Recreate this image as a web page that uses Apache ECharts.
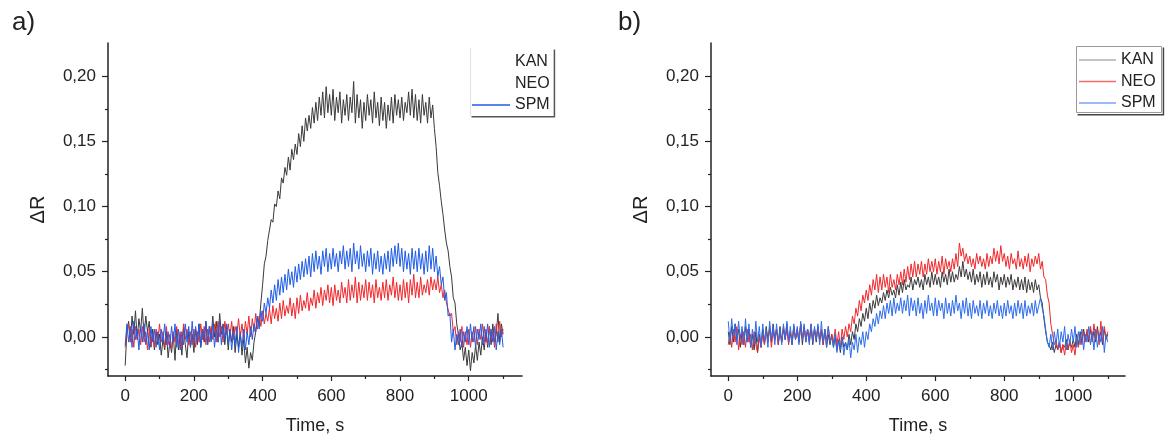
<!DOCTYPE html>
<html>
<head>
<meta charset="utf-8">
<script src="https://cdn.jsdelivr.net/npm/echarts@6/dist/echarts.min.js"></script>
<style>
html,body{margin:0;padding:0;background:#fff;}
#chart{width:1170px;height:440px;}
</style>
</head>
<body>
<div id="chart"></div>
<script>
// Sample times (s), one every 5 s from 0 to 1100
const times = [];
for (let t = 0; t <= 1100; t += 5) times.push(t);

const seriesNames = ['KAN', 'NEO', 'SPM'];
const xLabelValues = [0, 200, 400, 600, 800, 1000];
const xMinorValues = [100, 300, 500, 700, 900, 1100];
const yLabelValues = [0, 0.05, 0.10, 0.15, 0.20];
const yMinorValues = [-0.025, 0.025, 0.075, 0.125, 0.175];

// Panel a)  (each row = 50 s)
const kanA = [
 -0.022, 0.004, 0.012,-0.004, 0.016, 0.002, 0.020,-0.002, 0.014, 0.004,
  0.022, 0.000, 0.016, 0.004, 0.012,-0.008, 0.006,-0.010, 0.004,-0.006,
  0.002,-0.014,-0.002,-0.010, 0.004,-0.016,-0.004,-0.012, 0.002,-0.018,
  0.006,-0.010, 0.002,-0.014, 0.008,-0.006,-0.016, 0.004,-0.008, 0.002,
 -0.012, 0.006,-0.006, 0.010,-0.008, 0.004,-0.004, 0.012,-0.006, 0.008,
 -0.002, 0.016, 0.000, 0.012,-0.004, 0.018, 0.002, 0.010,-0.006, 0.008,
 -0.010, 0.006,-0.004, 0.008,-0.012, 0.002,-0.008, 0.004,-0.014,-0.002,
 -0.020,-0.008,-0.024,-0.012,-0.018,-0.004, 0.004, 0.014, 0.010, 0.026,
  0.040, 0.056, 0.062, 0.074, 0.082, 0.090, 0.088, 0.102, 0.100, 0.112,
  0.106, 0.122, 0.118, 0.130, 0.124, 0.138, 0.128, 0.144, 0.136, 0.148,
  0.140, 0.156, 0.146, 0.162, 0.150, 0.168, 0.158, 0.170, 0.160, 0.176,
  0.164, 0.180, 0.166, 0.184, 0.170, 0.188, 0.168, 0.192, 0.172, 0.186,
  0.170, 0.190, 0.166, 0.184, 0.172, 0.188, 0.164, 0.182, 0.170, 0.186,
  0.166, 0.184, 0.172, 0.196, 0.164, 0.186, 0.168, 0.182, 0.160, 0.180,
  0.166, 0.186, 0.170, 0.182, 0.164, 0.188, 0.168, 0.180, 0.162, 0.184,
  0.166, 0.180, 0.160, 0.178, 0.166, 0.184, 0.164, 0.186, 0.170, 0.182,
  0.168, 0.184, 0.166, 0.180, 0.172, 0.188, 0.170, 0.190, 0.168, 0.186,
  0.166, 0.182, 0.164, 0.186, 0.170, 0.180, 0.164, 0.184, 0.168, 0.178,
  0.160, 0.146, 0.126, 0.116, 0.104, 0.094, 0.082, 0.072, 0.066, 0.054,
  0.046, 0.030, 0.026, 0.010, 0.002,-0.010,-0.004,-0.018,-0.008,-0.022,
 -0.010,-0.026,-0.012,-0.020,-0.006,-0.018,-0.004,-0.014, 0.000,-0.010,
  0.004,-0.008, 0.008,-0.006, 0.010,-0.004, 0.002, 0.018,-0.004, 0.010,
  0.002
];
const neoA = [
 -0.008, 0.004, 0.010,-0.004, 0.006,-0.008, 0.008,-0.002, 0.006,-0.006,
  0.008,-0.004, 0.004,-0.010, 0.006,-0.006, 0.002,-0.008, 0.006,-0.004,
  0.010,-0.004, 0.004,-0.008, 0.008,-0.006, 0.002,-0.010, 0.004,-0.004,
  0.008,-0.006, 0.004,-0.008, 0.010,-0.002, 0.006,-0.006, 0.004,-0.006,
  0.006,-0.008, 0.004,-0.004, 0.010,-0.002, 0.008,-0.006, 0.006,-0.004,
  0.008,-0.002, 0.010,-0.004, 0.012, 0.000, 0.008,-0.004, 0.012, 0.002,
  0.010, 0.000, 0.012,-0.002, 0.008, 0.002, 0.014, 0.000, 0.010,-0.002,
  0.012, 0.002, 0.016, 0.000, 0.014, 0.004, 0.018, 0.006, 0.016, 0.008,
  0.020, 0.010, 0.018, 0.012, 0.022, 0.010, 0.024, 0.014, 0.022, 0.012,
  0.026, 0.014, 0.028, 0.016, 0.024, 0.018, 0.030, 0.016, 0.026, 0.014,
  0.030, 0.018, 0.032, 0.020, 0.028, 0.022, 0.034, 0.020, 0.030, 0.024,
  0.036, 0.022, 0.034, 0.026, 0.038, 0.024, 0.036, 0.028, 0.040, 0.026,
  0.038, 0.024, 0.040, 0.028, 0.036, 0.026, 0.042, 0.030, 0.038, 0.026,
  0.044, 0.028, 0.040, 0.030, 0.046, 0.026, 0.042, 0.028, 0.040, 0.030,
  0.044, 0.028, 0.042, 0.030, 0.040, 0.026, 0.044, 0.030, 0.038, 0.028,
  0.042, 0.030, 0.044, 0.028, 0.040, 0.032, 0.046, 0.030, 0.042, 0.028,
  0.040, 0.028, 0.044, 0.030, 0.042, 0.026, 0.044, 0.032, 0.048, 0.030,
  0.042, 0.030, 0.046, 0.032, 0.040, 0.034, 0.044, 0.032, 0.046, 0.036,
  0.044, 0.036, 0.046, 0.034, 0.040, 0.030, 0.036, 0.026, 0.026, 0.016,
  0.018, 0.004, 0.008,-0.006, 0.004,-0.004, 0.008,-0.008, 0.004,-0.006,
  0.006,-0.008, 0.004,-0.004, 0.008,-0.006, 0.006,-0.002, 0.010,-0.004,
  0.006,-0.006, 0.008,-0.002, 0.004,-0.008, 0.010,-0.004, 0.012, 0.000,
  0.006
];
const spmA = [
 -0.006, 0.010,-0.004, 0.008,-0.008, 0.012,-0.002, 0.006,-0.010, 0.008,
 -0.004, 0.010,-0.006, 0.004,-0.010, 0.008,-0.004, 0.006,-0.008, 0.004,
 -0.010, 0.006,-0.004, 0.010,-0.006, 0.004,-0.008, 0.008,-0.004, 0.010,
 -0.008, 0.006,-0.010, 0.004,-0.006, 0.010,-0.004, 0.008,-0.008, 0.012,
 -0.006, 0.008,-0.004, 0.010,-0.008, 0.006,-0.002, 0.012,-0.006, 0.008,
 -0.004, 0.010,-0.008, 0.006,-0.004, 0.012,-0.006, 0.008,-0.002, 0.010,
 -0.006, 0.006,-0.010, 0.004,-0.006, 0.008,-0.012, 0.002,-0.008, 0.006,
 -0.010, 0.004,-0.006, 0.008,-0.002, 0.010, 0.004, 0.016, 0.006, 0.020,
  0.012, 0.026, 0.018, 0.030, 0.022, 0.036, 0.026, 0.040, 0.028, 0.044,
  0.032, 0.046, 0.034, 0.048, 0.036, 0.052, 0.040, 0.050, 0.038, 0.054,
  0.042, 0.056, 0.044, 0.058, 0.046, 0.060, 0.048, 0.062, 0.046, 0.064,
  0.050, 0.066, 0.052, 0.062, 0.048, 0.066, 0.054, 0.068, 0.050, 0.064,
  0.052, 0.068, 0.054, 0.064, 0.050, 0.066, 0.056, 0.070, 0.052, 0.066,
  0.054, 0.068, 0.050, 0.072, 0.056, 0.066, 0.052, 0.070, 0.054, 0.064,
  0.050, 0.066, 0.054, 0.068, 0.048, 0.064, 0.052, 0.066, 0.050, 0.062,
  0.048, 0.064, 0.052, 0.066, 0.050, 0.068, 0.054, 0.070, 0.056, 0.072,
  0.054, 0.068, 0.050, 0.066, 0.052, 0.064, 0.048, 0.068, 0.052, 0.066,
  0.050, 0.068, 0.052, 0.064, 0.048, 0.066, 0.050, 0.070, 0.052, 0.068,
  0.050, 0.062, 0.046, 0.054, 0.040, 0.046, 0.028, 0.034, 0.016, 0.018,
 -0.004, 0.006,-0.010, 0.002,-0.006, 0.006,-0.008, 0.004,-0.004, 0.008,
 -0.006, 0.010,-0.004, 0.008,-0.008, 0.006,-0.002, 0.010,-0.006, 0.008,
 -0.004, 0.010,-0.008, 0.006,-0.004, 0.008,-0.010, 0.004,-0.006, 0.006,
 -0.008
];

// Panel b)
const kanB = [
  0.004,-0.006, 0.008,-0.004, 0.010,-0.002, 0.006,-0.008, 0.004,-0.006,
  0.008,-0.004, 0.006,-0.008, 0.002,-0.010, 0.004,-0.012, 0.002,-0.008,
  0.006,-0.006, 0.008,-0.002, 0.006,-0.004, 0.010,-0.002, 0.006,-0.006,
  0.008,-0.004, 0.006,-0.002, 0.010,-0.004, 0.004,-0.006, 0.008,-0.002,
  0.006,-0.004, 0.010,-0.006, 0.008,-0.002, 0.006,-0.004, 0.008,-0.006,
  0.006,-0.004, 0.008,-0.002, 0.004,-0.006, 0.006,-0.008, 0.002,-0.006,
  0.002,-0.008, 0.000,-0.010,-0.002,-0.012, 0.000,-0.008,-0.004,-0.010,
  0.002,-0.006, 0.004,-0.002, 0.010, 0.004, 0.014, 0.008, 0.018, 0.012,
  0.022, 0.014, 0.026, 0.018, 0.028, 0.022, 0.032, 0.024, 0.030, 0.026,
  0.034, 0.028, 0.036, 0.030, 0.038, 0.032, 0.036, 0.030, 0.040, 0.032,
  0.042, 0.034, 0.044, 0.036, 0.040, 0.038, 0.046, 0.036, 0.044, 0.040,
  0.046, 0.038, 0.044, 0.036, 0.048, 0.040, 0.046, 0.038, 0.050, 0.040,
  0.048, 0.040, 0.046, 0.038, 0.050, 0.042, 0.048, 0.040, 0.052, 0.042,
  0.050, 0.042, 0.048, 0.044, 0.054, 0.046, 0.058, 0.046, 0.052, 0.044,
  0.050, 0.042, 0.052, 0.040, 0.048, 0.042, 0.050, 0.038, 0.048, 0.040,
  0.050, 0.040, 0.046, 0.038, 0.050, 0.042, 0.048, 0.036, 0.046, 0.040,
  0.048, 0.038, 0.046, 0.040, 0.048, 0.036, 0.044, 0.038, 0.046, 0.036,
  0.044, 0.036, 0.046, 0.034, 0.044, 0.036, 0.042, 0.034, 0.044, 0.036,
  0.040, 0.030, 0.026, 0.014, 0.004,-0.004,-0.006,-0.010,-0.004,-0.012,
 -0.006,-0.010,-0.004,-0.012,-0.006,-0.008,-0.002,-0.010,-0.004,-0.008,
 -0.002,-0.008, 0.002,-0.006, 0.004,-0.004, 0.006,-0.002, 0.004,-0.004,
  0.006,-0.002, 0.004,-0.004, 0.008,-0.002, 0.004,-0.006, 0.006,-0.002,
  0.002
];
const neoB = [
 -0.006, 0.004,-0.008, 0.006,-0.004, 0.008,-0.010, 0.002,-0.006, 0.004,
 -0.008, 0.006,-0.004, 0.002,-0.010, 0.004,-0.006,-0.012, 0.000,-0.008,
  0.002,-0.006, 0.006,-0.004, 0.008,-0.008, 0.004,-0.002, 0.006,-0.006,
  0.004,-0.004, 0.008,-0.002, 0.006,-0.006, 0.004,-0.004, 0.008,-0.002,
  0.006,-0.004, 0.010,-0.002, 0.008,-0.004, 0.006,-0.002, 0.010,-0.004,
  0.006,-0.002, 0.008,-0.004, 0.006,-0.006, 0.004,-0.002, 0.008,-0.004,
  0.002,-0.004, 0.006,-0.006, 0.004,-0.008, 0.006,-0.002, 0.008, 0.000,
  0.010, 0.004, 0.016, 0.010, 0.022, 0.016, 0.028, 0.020, 0.032, 0.026,
  0.036, 0.028, 0.040, 0.032, 0.044, 0.036, 0.048, 0.034, 0.046, 0.036,
  0.048, 0.038, 0.046, 0.034, 0.048, 0.038, 0.044, 0.036, 0.048, 0.040,
  0.050, 0.040, 0.052, 0.042, 0.054, 0.044, 0.056, 0.046, 0.058, 0.046,
  0.056, 0.048, 0.058, 0.046, 0.056, 0.048, 0.060, 0.050, 0.058, 0.050,
  0.060, 0.048, 0.058, 0.050, 0.062, 0.048, 0.060, 0.052, 0.058, 0.050,
  0.060, 0.052, 0.064, 0.054, 0.072, 0.062, 0.068, 0.058, 0.064, 0.056,
  0.062, 0.054, 0.060, 0.052, 0.064, 0.056, 0.062, 0.054, 0.060, 0.052,
  0.064, 0.054, 0.062, 0.056, 0.068, 0.058, 0.066, 0.056, 0.070, 0.058,
  0.064, 0.054, 0.062, 0.052, 0.064, 0.056, 0.060, 0.052, 0.066, 0.054,
  0.060, 0.052, 0.062, 0.054, 0.064, 0.050, 0.060, 0.054, 0.062, 0.056,
  0.064, 0.052, 0.058, 0.046, 0.044, 0.032, 0.026, 0.010, 0.002,-0.006,
 -0.002,-0.010,-0.004,-0.012,-0.006,-0.014,-0.004,-0.010,-0.002,-0.012,
 -0.006,-0.014,-0.002,-0.008, 0.002,-0.006, 0.004,-0.004, 0.006,-0.002,
  0.008,-0.004, 0.010,-0.002, 0.006,-0.006, 0.012,-0.004, 0.008,-0.002,
  0.004
];
const spmB = [
  0.012,-0.004, 0.014, 0.000, 0.010,-0.006, 0.012,-0.002, 0.008,-0.006,
  0.014,-0.004, 0.010,-0.008, 0.006,-0.006, 0.012,-0.004, 0.008,-0.008,
  0.010,-0.004, 0.006,-0.008, 0.012,-0.002, 0.008,-0.006, 0.010,-0.004,
  0.006,-0.006, 0.010,-0.002, 0.012,-0.004, 0.008,-0.006, 0.010,-0.002,
  0.008,-0.006, 0.012,-0.002, 0.010,-0.004, 0.006,-0.006, 0.010,-0.004,
  0.008,-0.002, 0.010,-0.006, 0.012,-0.004, 0.006,-0.008, 0.008,-0.004,
  0.000,-0.008, 0.002,-0.012,-0.002,-0.010, 0.000,-0.014,-0.004,-0.010,
 -0.002,-0.016,-0.004,-0.010, 0.002,-0.012, 0.000,-0.006, 0.004,-0.008,
  0.004,-0.002, 0.010, 0.004, 0.014, 0.008, 0.018, 0.010, 0.020, 0.014,
  0.024, 0.014, 0.026, 0.018, 0.028, 0.016, 0.030, 0.018, 0.026, 0.020,
  0.030, 0.018, 0.028, 0.020, 0.032, 0.016, 0.030, 0.020, 0.028, 0.016,
  0.030, 0.018, 0.026, 0.014, 0.028, 0.018, 0.032, 0.020, 0.026, 0.016,
  0.030, 0.016, 0.028, 0.020, 0.026, 0.014, 0.030, 0.018, 0.026, 0.016,
  0.028, 0.018, 0.032, 0.020, 0.026, 0.014, 0.028, 0.018, 0.030, 0.016,
  0.026, 0.014, 0.028, 0.018, 0.024, 0.016, 0.028, 0.014, 0.026, 0.018,
  0.028, 0.016, 0.024, 0.014, 0.026, 0.018, 0.028, 0.016, 0.024, 0.014,
  0.026, 0.016, 0.028, 0.018, 0.024, 0.014, 0.026, 0.016, 0.028, 0.018,
  0.026, 0.014, 0.028, 0.016, 0.024, 0.018, 0.026, 0.016, 0.028, 0.018,
  0.024, 0.030, 0.022, 0.016, 0.006,-0.004,-0.008, 0.002,-0.010, 0.004,
 -0.006, 0.006,-0.008, 0.004,-0.004, 0.008,-0.010, 0.002,-0.006, 0.006,
 -0.004, 0.008,-0.008, 0.004,-0.006, 0.006,-0.010, 0.002,-0.004, 0.008,
 -0.006, 0.004,-0.010, 0.006,-0.008, 0.002,-0.004, 0.008,-0.012, 0.002,
 -0.004
];

const FONT = "'Liberation Sans', Arial, sans-serif";
const colorsA = ['#3a3a3a', '#f0282c', '#1f5ce6'];
const colorsB = ['#3a3a3a', '#f0282c', '#2d6cec'];

function pairs(vals) { return vals.map((v, i) => [times[i], v]); }
const fmtY = v => v.toFixed(2).replace('.', ',');
const fmtX = v => String(Math.round(v));

const Y_MIN = -0.03, Y_MAX = 0.2255;

function xAxes(grid, max) {
  return [
    { type: 'value', gridIndex: grid, min: -50, max: max, position: 'bottom',
      name: 'Time, s', nameLocation: 'middle', nameGap: 41,
      nameTextStyle: { fontSize: 18, color: '#222', fontFamily: FONT },
      axisLine: { show: true, onZero: false, lineStyle: { color: '#222', width: 1.5 } },
      axisTick: { show: true, customValues: xLabelValues, length: 5, inside: false, lineStyle: { color: '#222', width: 1.2 } },
      axisLabel: { show: true, customValues: xLabelValues, formatter: fmtX, fontSize: 17, color: '#222', fontFamily: FONT, margin: 12 },
      splitLine: { show: false } },
    { type: 'value', gridIndex: grid, min: -50, max: max, position: 'bottom',
      axisLine: { show: false, onZero: false },
      axisTick: { show: true, customValues: xMinorValues, length: 3, lineStyle: { color: '#222', width: 1.2 } },
      axisLabel: { show: false }, splitLine: { show: false } }
  ];
}
function yAxes(grid) {
  return [
    { type: 'value', gridIndex: grid, min: Y_MIN, max: Y_MAX, position: 'left',
      name: 'ΔR', nameLocation: 'middle', nameGap: 60,
      nameTextStyle: { fontSize: 20, color: '#222', fontFamily: FONT },
      axisLine: { show: true, onZero: false, lineStyle: { color: '#222', width: 1.5 } },
      axisTick: { show: true, customValues: yLabelValues, length: 6, lineStyle: { color: '#222', width: 1.2 } },
      axisLabel: { show: true, customValues: yLabelValues, formatter: fmtY, fontSize: 17, color: '#222', fontFamily: FONT, margin: 12 },
      splitLine: { show: false } },
    { type: 'value', gridIndex: grid, min: Y_MIN, max: Y_MAX, position: 'left',
      axisLine: { show: false, onZero: false },
      axisTick: { show: true, customValues: yMinorValues, length: 3, lineStyle: { color: '#222', width: 1.2 } },
      axisLabel: { show: false }, splitLine: { show: false } }
  ];
}

function lineSeries(name, data, xi, yi, color) {
  return { type: 'line', name: name, xAxisIndex: xi, yAxisIndex: yi,
    data: pairs(data), showSymbol: false, symbol: 'none',
    lineStyle: { width: 1, color: color }, itemStyle: { color: color },
    emphasis: { disabled: true }, animation: false };
}

const legendText = { fontSize: 16, color: '#222', fontFamily: FONT, lineHeight: 16 };

const chart = echarts.init(document.getElementById('chart'), null, { renderer: 'canvas' });
chart.setOption({
  backgroundColor: '#ffffff',
  animation: false,
  textStyle: { fontFamily: FONT },
  title: [
    { text: 'a)', left: 7, top: 5, textStyle: { fontSize: 26, fontWeight: 'normal', color: '#222', fontFamily: FONT } },
    { text: 'b)', left: 613, top: 5, textStyle: { fontSize: 26, fontWeight: 'normal', color: '#222', fontFamily: FONT } }
  ],
  grid: [
    { left: 108, top: 43, width: 414, height: 336 },
    { left: 711, top: 43, width: 414, height: 336 }
  ],
  xAxis: [...xAxes(0, 1155), ...xAxes(1, 1150)],
  yAxis: [...yAxes(0), ...yAxes(1)],
  legend: [
    { orient: 'vertical', left: 470, top: 48, padding: [6, 4, 3, 2], itemGap: 5.5,
      itemWidth: 38, itemHeight: 1.5, icon: 'rect',
      backgroundColor: '#fff', borderWidth: 0,
      shadowColor: '#555', shadowOffsetX: 1.5, shadowOffsetY: 1.5, shadowBlur: 0,
      textStyle: legendText, selectedMode: false,
      data: [
        { name: 'KAN', itemStyle: { color: '#ffffff' } },
        { name: 'NEO', itemStyle: { color: '#ffffff' } },
        { name: 'SPM', itemStyle: { color: colorsA[2] } }
      ] },
    { orient: 'vertical', left: 1076, top: 46, padding: [6, 7, 3, 3], itemGap: 5.5,
      itemWidth: 37, itemHeight: 1.5, icon: 'rect',
      backgroundColor: '#fff', borderWidth: 0,
      shadowColor: '#444', shadowOffsetX: 1.5, shadowOffsetY: 1.5, shadowBlur: 0,
      textStyle: legendText, selectedMode: false,
      data: [
        { name: 'KAN', itemStyle: { color: '#b0b0b0' } },
        { name: 'NEO', itemStyle: { color: '#f26a6a' } },
        { name: 'SPM', itemStyle: { color: '#7ea3f0' } }
      ] }
  ],
  graphic: [
    { type: 'line', z: 100, shape: { x1: 470.5, y1: 48, x2: 470.5, y2: 116 },
      style: { stroke: '#e2e2e2', lineWidth: 1 }, silent: true },
    { type: 'rect', z: 100, shape: { x: 1076.5, y: 46.5, width: 85, height: 66 },
      style: { fill: 'none', stroke: '#9a9a9a', lineWidth: 1 }, silent: true }
  ],
  series: [
    lineSeries(seriesNames[0], kanA, 0, 0, colorsA[0]),
    lineSeries(seriesNames[1], neoA, 0, 0, colorsA[1]),
    lineSeries(seriesNames[2], spmA, 0, 0, colorsA[2]),
    lineSeries(seriesNames[0], kanB, 2, 2, colorsB[0]),
    lineSeries(seriesNames[1], neoB, 2, 2, colorsB[1]),
    lineSeries(seriesNames[2], spmB, 2, 2, colorsB[2])
  ]
});
</script>
</body>
</html>
